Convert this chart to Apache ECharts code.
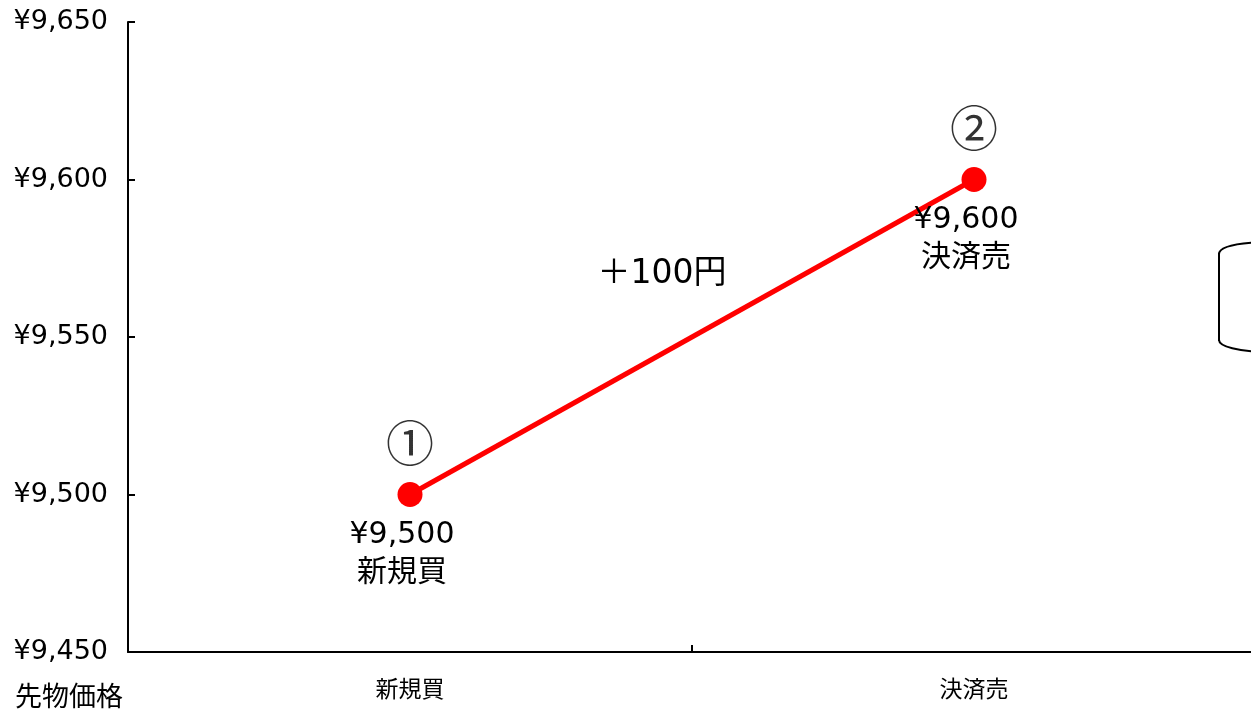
<!DOCTYPE html>
<html>
<head>
<meta charset="utf-8">
<script src="https://cdn.jsdelivr.net/npm/echarts@6/dist/echarts.min.js"></script>
<style>
  html, body { margin: 0; padding: 0; background: #fff; }
  #chart { width: 1251px; height: 712px; }
</style>
</head>
<body>
<div id="chart"></div>
<script>
// 先物取引：新規買から決済売までの価格推移
const categories = ['新規買', '決済売'];
const prices = [9500, 9600];
const steps = ['①', '②'];
const profitText = '＋100円';
const axisName = '先物価格';
const yMin = 9450, yMax = 9650, yStep = 50;

// 数字は幅の広い DejaVu Sans、和文は Noto Sans CJK JP で表示
const FONT = '"DejaVu Sans", "Noto Sans CJK JP", sans-serif';
const JP_FONT = '"Noto Sans CJK JP", "Noto Sans", sans-serif';
const yen = v => '¥' + v.toLocaleString('en-US');

const outline = { fill: 'none', stroke: '#000', lineWidth: 2 };

const chart = echarts.init(document.getElementById('chart'));
chart.setOption({
  animation: false,
  backgroundColor: '#fff',
  textStyle: { fontFamily: FONT },
  grid: {
    left: 128, top: 22, width: 1128, bottom: 60,
    containLabel: false,
    outerBoundsMode: 'none'
  },
  xAxis: {
    type: 'category',
    data: categories,
    boundaryGap: true,
    axisLine: { lineStyle: { color: '#000', width: 2 } },
    axisTick: { show: true, interval: 0, inside: true, length: 7, lineStyle: { color: '#000', width: 2 } },
    axisLabel: { color: '#000', fontSize: 23, fontFamily: JP_FONT, margin: 25, interval: 0 },
    splitLine: { show: false }
  },
  yAxis: {
    type: 'value',
    min: yMin, max: yMax, interval: yStep,
    axisLine: { show: true, lineStyle: { color: '#000', width: 2 } },
    axisTick: { show: true, inside: true, length: 7, lineStyle: { color: '#000', width: 2 } },
    axisLabel: {
      color: '#000', fontSize: 27, fontFamily: FONT,
      margin: 20, padding: [10, 0, 0, 0], formatter: yen
    },
    splitLine: { show: false }
  },
  series: [
    {
      type: 'line',
      data: prices,
      lineStyle: { color: '#ff0000', width: 5 },
      itemStyle: { color: '#ff0000' },
      symbol: 'circle',
      symbolSize: 25,
      z: 3,
      label: {
        show: true,
        position: 'bottom',
        distance: 9,
        offset: [-8, 0],
        color: '#000',
        fontSize: 30,
        lineHeight: 38,
        fontFamily: FONT,
        formatter: p => yen(p.value) + '\n' + p.name
      }
    },
    {
      // 手順番号（①②）
      type: 'scatter',
      data: prices,
      symbolSize: 1,
      itemStyle: { color: 'rgba(0,0,0,0)' },
      silent: true,
      z: 4,
      label: {
        show: true,
        position: 'top',
        distance: 27,
        color: '#000',
        fontSize: 48,
        fontWeight: 'normal',
        lineHeight: 48,
        fontFamily: JP_FONT,
        formatter: p => steps[p.dataIndex]
      }
    }
  ],
  graphic: [
    {
      type: 'text',
      x: 662, y: 274,
      style: { text: profitText, fill: '#000', font: '33px ' + FONT, align: 'center', verticalAlign: 'middle' }
    },
    {
      type: 'text',
      x: 15, y: 696,
      style: { text: axisName, fill: '#000', font: '27px ' + JP_FONT, align: 'left', verticalAlign: 'middle' }
    },
    // 右端の円筒形（左半分のみ表示）
    {
      type: 'bezierCurve',
      shape: { x1: 1219, y1: 254, cpx1: 1219, cpy1: 246, cpx2: 1240, cpy2: 243, x2: 1262, y2: 242 },
      style: outline
    },
    {
      type: 'line',
      shape: { x1: 1219, y1: 253, x2: 1219, y2: 341 },
      style: outline
    },
    {
      type: 'bezierCurve',
      shape: { x1: 1219, y1: 340, cpx1: 1219, cpy1: 347, cpx2: 1240, cpy2: 351, x2: 1262, y2: 352 },
      style: outline
    }
  ]
});
</script>
</body>
</html>
